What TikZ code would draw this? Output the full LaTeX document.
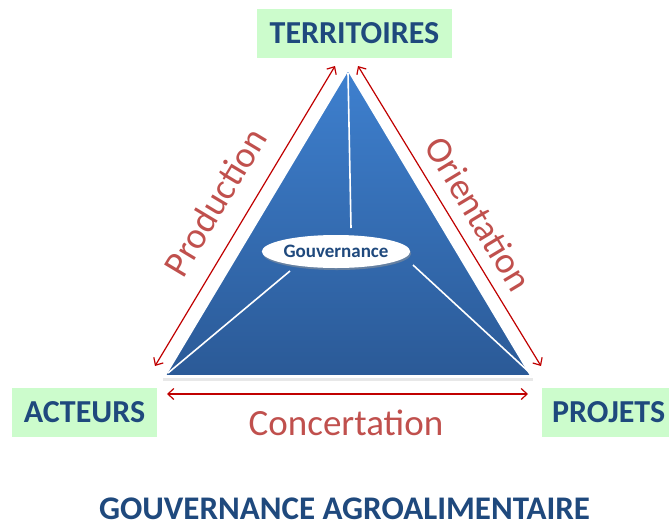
\documentclass[tikz,border=0pt]{standalone}
\usepackage{fontspec}
\setmainfont{Carlito}
\usetikzlibrary{arrows.meta,shapes.geometric,shadows}
\definecolor{dblue}{HTML}{1F497D}
\definecolor{lgreen}{HTML}{CCFCCC}
\definecolor{arrred}{HTML}{C00000}
\definecolor{lblred}{HTML}{C0504D}
\definecolor{tritop}{HTML}{3E80CF}
\definecolor{tribot}{HTML}{2B5A97}
\begin{document}
\begin{tikzpicture}[x=1pt,y=-1pt,
  lbl/.style={font=\fontsize{32}{32}\selectfont\bfseries, text=dblue, fill=lgreen, inner sep=0pt, minimum height=49pt},
  rel/.style={draw=arrred, line width=1.2pt, {Straight Barb[length=6pt,width=11pt]}-{Straight Barb[length=6pt,width=11pt]}},
  rlbl/.style={font=\fontsize{37}{37}\selectfont, text=lblred, inner sep=0pt},
  spoke/.style={draw=white, line width=1.6pt}]
\useasboundingbox (0,0) rectangle (669,523);
% triangle
\coordinate (apex) at (348,70);
\coordinate (bl) at (165,376);
\coordinate (br) at (531,376);
\fill[black!9] (163,378) rectangle (533,381);
\shade[top color=tritop, bottom color=tribot] (apex) -- (bl) -- (br) -- cycle;
\draw[white, line width=1.6pt, line join=round] (apex) -- (bl) -- (br) -- cycle;
% labels
\node[lbl, minimum width=195pt] (terr) at (354.5,33.5) {TERRITOIRES};
\node[lbl, minimum width=145pt] (act) at (84.5,412.5) {ACTEURS};
\node[lbl, minimum width=145pt, anchor=west, text width=145pt, align=left] (proj) at (542,412.5) {\hspace*{10pt}PROJETS};
% governance ellipse
\node[ellipse, fill=white, minimum width=143pt, minimum height=33pt, inner sep=0pt,
  drop shadow={shadow xshift=1pt, shadow yshift=-2pt, fill=black!40},
  font=\fontsize{19}{19}\selectfont\bfseries, text=dblue] (gouv) at (336,251.5) {Gouvernance};
% spokes
\coordinate (s1a) at (348,73);
\coordinate (s1b) at (351,228);
\coordinate (s2a) at (290,271);
\coordinate (s2b) at (168,373);
\coordinate (s3a) at (413,265);
\coordinate (s3b) at (529,372);
\draw[spoke] (s1a) -- (s1b);
\draw[spoke] (s2a) -- (s2b);
\draw[spoke] (s3a) -- (s3b);
% relations
\coordinate (pa) at (335,66);
\coordinate (pb) at (155,366);
\coordinate (oa) at (358,66);
\coordinate (ob) at (541,366);
\coordinate (ca) at (167,394);
\coordinate (cb) at (528,394);
\draw[rel] (pa) -- (pb);
\draw[rel] (oa) -- (ob);
\draw[rel] (ca) -- (cb);
\node[rlbl, rotate=59] (prod) at (215,202) {Production};
\node[rlbl, rotate=-59] (orient) at (479,214) {Orientation};
\node[rlbl, anchor=base] (conc) at (346,435) {Concertation};
% title
\node[font=\fontsize{33}{33}\selectfont\bfseries, text=dblue, anchor=base, inner sep=0pt] (title) at (344.5,519) {GOUVERNANCE AGROALIMENTAIRE};
\end{tikzpicture}
\end{document}
